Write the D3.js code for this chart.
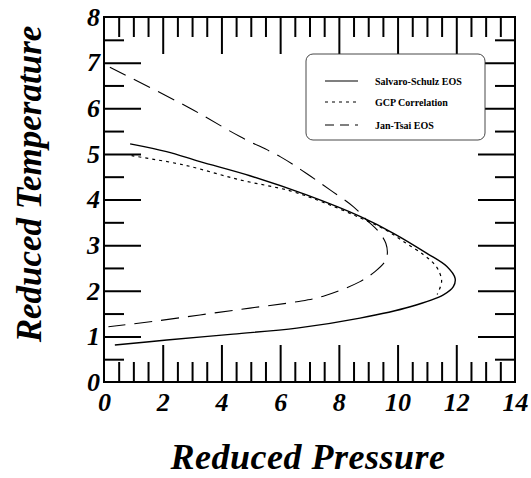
<!DOCTYPE html>
<html>
<head>
<meta charset="utf-8">
<script src="https://cdn.jsdelivr.net/npm/d3@7"></script>
<style>
  html, body { margin: 0; padding: 0; background: #fff; }
  svg text { font-family: "Liberation Serif", "Times New Roman", serif; }
</style>
</head>
<body>
<div id="chart"></div>
<script>
// ---- data (reduced pressure, reduced temperature) ----
const seriesNames = ['Salvaro-Schulz EOS', 'GCP Correlation', 'Jan-Tsai EOS'];

const salvaroSchulz = [
  [0.89, 5.22], [2.13, 5.05], [3.27, 4.83], [4.97, 4.52], [6.9, 4.10],
  [8.72, 3.63], [9.86, 3.26], [11.0, 2.82], [11.68, 2.53], [11.96, 2.27],
  [11.9, 2.09], [11.56, 1.91], [10.43, 1.65], [8.72, 1.40], [6.57, 1.18],
  [4.4, 1.05], [2.14, 0.92], [0.37, 0.81]
];

const gcpCorrelation = [
  [0.94, 4.96], [2.7, 4.76], [4.63, 4.43], [6.34, 4.19], [7.5, 3.93],
  [8.72, 3.6], [9.6, 3.33], [10.25, 3.06], [10.88, 2.79], [11.2, 2.62],
  [11.4, 2.44], [11.5, 2.2], [11.35, 1.92]
];

const janTsai = [
  [0.2, 6.9], [2.93, 6.0], [4.63, 5.38], [6.0, 4.94], [6.9, 4.57],
  [7.7, 4.21], [8.5, 3.84], [8.95, 3.55], [9.35, 3.3], [9.6, 3.04],
  [9.65, 2.8], [9.57, 2.64], [9.23, 2.42], [8.72, 2.2], [7.47, 1.88],
  [6.57, 1.76], [4.97, 1.62], [3.27, 1.47], [1.57, 1.32], [0.15, 1.21]
];

const xTicks = [0, 2, 4, 6, 8, 10, 12, 14];
const yTicks = [0, 1, 2, 3, 4, 5, 6, 7, 8];
const xMinor = d3.range(0.5, 14, 0.5).filter(v => v % 2 !== 0);
const yMinor = d3.range(0.5, 8, 0.5).filter(v => v % 1 !== 0);

// ---- layout ----
const W = 531, H = 478;
const L = 104, R = 515, T = 17, B = 382;
const bigTick = 37, smallTick = 20;
const serif = '"Liberation Serif", "Times New Roman", serif';

const svg = d3.select('#chart').append('svg')
  .attr('width', W).attr('height', H)
  .attr('font-family', serif);
svg.append('rect').attr('width', W).attr('height', H).attr('fill', '#fff');

const x = d3.scaleLinear().domain([0, 14]).range([L, R]);
const y = d3.scaleLinear().domain([0, 8]).range([B, T]);

/* -------- inward ticks on all four sides -------- */
function tickAxis (axis, tr, size, vals) {
  const g = svg.append('g').attr('transform', tr)
    .call(axis.tickValues(vals).tickSize(-size).tickFormat(''));
  g.select('.domain').remove();
  g.selectAll('line').attr('stroke', '#000').attr('stroke-width', 2);
  return g;
}
tickAxis(d3.axisBottom(x), `translate(0,${B})`, bigTick, xTicks.slice(1, -1));
tickAxis(d3.axisBottom(x), `translate(0,${B})`, smallTick, xMinor);
tickAxis(d3.axisTop(x), `translate(0,${T})`, bigTick, xTicks.slice(1, -1));
tickAxis(d3.axisTop(x), `translate(0,${T})`, smallTick, xMinor);
tickAxis(d3.axisLeft(y), `translate(${L},0)`, bigTick, yTicks.slice(1, -1));
tickAxis(d3.axisLeft(y), `translate(${L},0)`, smallTick, yMinor);
tickAxis(d3.axisRight(y), `translate(${R},0)`, bigTick, yTicks.slice(1, -1));
tickAxis(d3.axisRight(y), `translate(${R},0)`, smallTick, yMinor);

/* -------- tick labels -------- */
function styleLabels (g) {
  g.select('.domain').remove();
  g.attr('font-family', serif);
  g.selectAll('text')
    .style('font-family', serif)
    .style('font-size', '26px').style('font-weight', 700).style('font-style', 'italic')
    .attr('fill', '#000');
}
const xLab = svg.append('g').attr('transform', `translate(0,${B})`)
  .call(d3.axisBottom(x).tickValues(xTicks).tickSize(0).tickPadding(11));
styleLabels(xLab);

const yLab = svg.append('g').attr('transform', `translate(${L},0)`)
  .call(d3.axisLeft(y).tickValues(yTicks).tickSize(0).tickPadding(4));
styleLabels(yLab);

/* -------- frame -------- */
svg.append('rect')
  .attr('x', L).attr('y', T).attr('width', R - L).attr('height', B - T)
  .attr('fill', 'none').attr('stroke', '#000').attr('stroke-width', 2);

/* -------- curves -------- */
const line = d3.line()
  .x(d => x(d[0])).y(d => y(d[1]))
  .curve(d3.curveCatmullRom.alpha(0.5));

const styles = [
  { data: salvaroSchulz, dash: null,   width: 1.4 },
  { data: gcpCorrelation, dash: '3,4', width: 1.2 },
  { data: janTsai,       dash: '18,9', width: 1.1 }
];

svg.append('g').selectAll('path').data(styles).enter().append('path')
  .attr('d', d => line(d.data))
  .attr('fill', 'none')
  .attr('stroke', '#000')
  .attr('stroke-width', d => d.width)
  .attr('stroke-dasharray', d => d.dash);

/* -------- legend -------- */
const lg = svg.append('g').attr('transform', 'translate(306,54)');
lg.append('rect')
  .attr('width', 179).attr('height', 86).attr('rx', 7)
  .attr('fill', '#fff').attr('stroke', '#333').attr('stroke-width', 0.9);

const rowY = [27, 48, 71];
const legendDash = [null, '3,4', '9,6'];
seriesNames.forEach((name, i) => {
  lg.append('line')
    .attr('x1', 19).attr('x2', 52).attr('y1', rowY[i]).attr('y2', rowY[i])
    .attr('stroke', '#000').attr('stroke-width', 1.1)
    .attr('stroke-dasharray', legendDash[i]);
  lg.append('text')
    .attr('x', 69).attr('y', rowY[i]).attr('dy', '0.35em')
    .style('font-size', '10px').style('font-weight', 700)
    .text(name);
});

/* -------- axis titles -------- */
svg.append('text')
  .attr('x', 308).attr('y', 469)
  .attr('text-anchor', 'middle')
  .style('font-size', '36px').style('font-weight', 700).style('font-style', 'italic')
  .style('letter-spacing', '0.5px')
  .text('Reduced Pressure');

svg.append('text')
  .attr('transform', 'translate(41,184) rotate(-90)')
  .attr('text-anchor', 'middle')
  .style('font-size', '35px').style('font-weight', 700).style('font-style', 'italic')
  .text('Reduced Temperature');
</script>
</body>
</html>
